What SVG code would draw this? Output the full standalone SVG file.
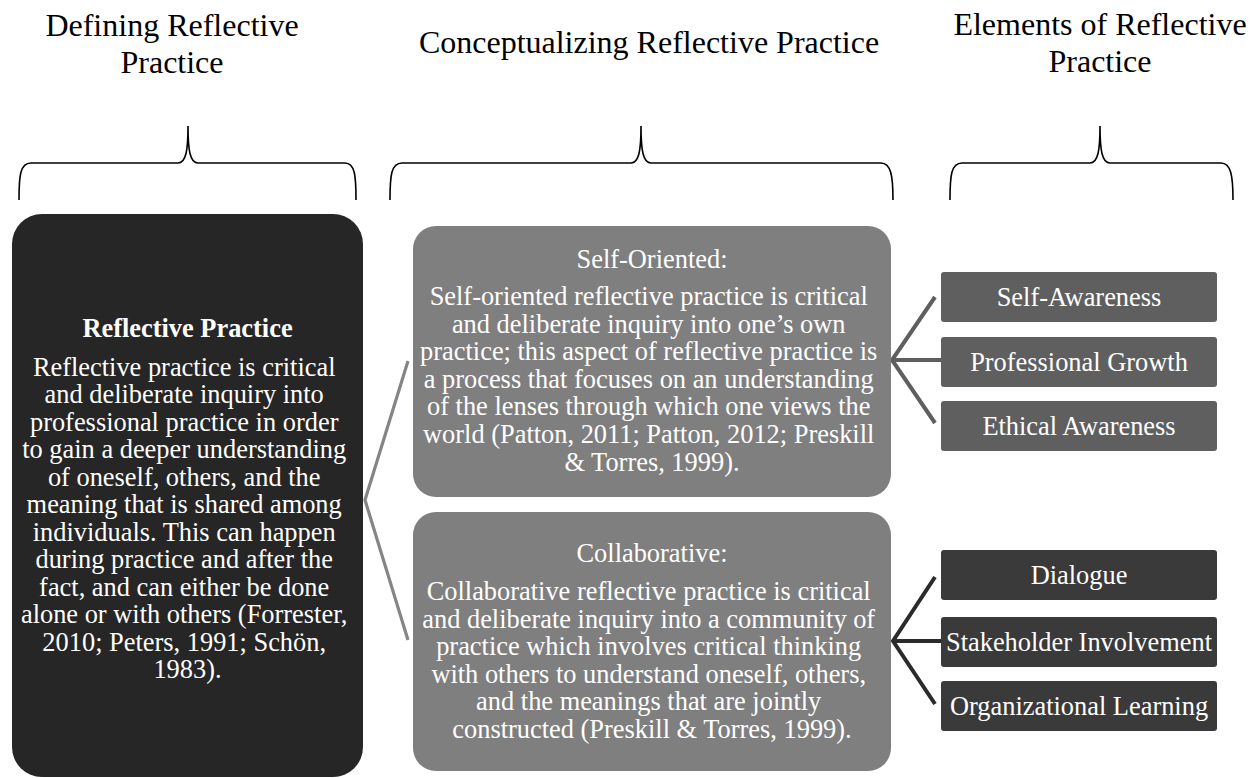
<svg xmlns="http://www.w3.org/2000/svg" width="1252" height="778" viewBox="0 0 1252 778">
  <style>
    .title { font-family: "Liberation Serif", "Times New Roman", serif; font-size: 32px; fill: #000; text-anchor: middle; }
    .body { font-family: "Liberation Serif", "Times New Roman", serif; font-size: 26.4px; fill: #fff; text-anchor: middle; }
    .bold { font-weight: bold; }
    .brace { fill: none; stroke: #000; stroke-width: 1.6; }
    .conn { fill: none; stroke-linecap: butt; stroke-linejoin: miter; }
    .c-main { stroke: #858585; stroke-width: 3.2; }
    .c-self { stroke: #5f5f5f; stroke-width: 4; }
    .c-collab { stroke: #2b2b2b; stroke-width: 4; }
    .mid { fill: #7f7f7f; }
    .el-self { fill: #5f5f5f; }
    .el-collab { fill: #3a3a3a; }
  </style>

  <rect width="1252" height="778" fill="#fff"/>

  <!-- Column headings -->
  <g id="heading-defining">
    <text class="title" x="172" y="36">Defining Reflective</text>
    <text class="title" x="172" y="73">Practice</text>
  </g>
  <g id="heading-conceptualizing">
    <text class="title" x="649" y="53">Conceptualizing Reflective Practice</text>
  </g>
  <g id="heading-elements">
    <text class="title" x="1100" y="35">Elements of Reflective</text>
    <text class="title" x="1100" y="72">Practice</text>
  </g>

  <!-- Curly braces under the headings -->
  <g id="braces">
    <path class="brace" d="M19,200 C19,176 20,163 31,163 L178,163 C186,163 188,150 188,126 C188,150 190,163 198,163 L345,163 C355,163 356,176 356,200"/>
    <path class="brace" d="M390,200 C390,176 391,163 402,163 L631,163 C639,163 641,150 641,126 C641,150 643,163 651,163 L881,163 C891,163 893,176 893,200"/>
    <path class="brace" d="M950,200 C950,176 951,163 962,163 L1090,163 C1098,163 1100,150 1100,126 C1100,150 1102,163 1110,163 L1221,163 C1231,163 1233,176 1233,200"/>
  </g>

  <!-- Connectors -->
  <g id="connectors">
    <polyline class="conn c-main" points="408,361 365,500 408,640"/>
    <polyline class="conn c-self" points="935,297 892,360 935,423"/>
    <line class="conn c-self" x1="892" y1="360" x2="941" y2="360"/>
    <polyline class="conn c-collab" points="935,577 893,641 935,704"/>
    <line class="conn c-collab" x1="893" y1="641" x2="941" y2="641"/>
  </g>

  <!-- Root node -->
  <g id="node-reflective-practice">
    <rect x="12" y="214" width="351" height="563" rx="30" ry="30" fill="#262626"/>
    <text class="body bold" x="187.5" y="337">Reflective Practice</text>
    <text class="body" x="187.5">
      <tspan x="187.5" y="375.5">Reflective practice is critical</tspan>
      <tspan x="187.5" y="403">and deliberate inquiry into</tspan>
      <tspan x="187.5" y="430.5">professional practice in order</tspan>
      <tspan x="187.5" y="458">to gain a deeper understanding</tspan>
      <tspan x="187.5" y="485.5">of oneself, others, and the</tspan>
      <tspan x="187.5" y="513">meaning that is shared among</tspan>
      <tspan x="187.5" y="540.5">individuals. This can happen</tspan>
      <tspan x="187.5" y="568">during practice and after the</tspan>
      <tspan x="187.5" y="595.5">fact, and can either be done</tspan>
      <tspan x="187.5" y="623">alone or with others (Forrester,</tspan>
      <tspan x="187.5" y="650.5">2010; Peters, 1991; Schön,</tspan>
      <tspan x="187.5" y="678">1983).</tspan>
    </text>
  </g>

  <!-- Second level -->
  <g id="node-self-oriented">
    <rect class="mid" x="413" y="226" width="478" height="271" rx="23" ry="23"/>
    <text class="body" x="652" y="268">Self-Oriented:</text>
    <text class="body" x="652">
      <tspan x="652" y="305">Self-oriented reflective practice is critical</tspan>
      <tspan x="652" y="332.6">and deliberate inquiry into one’s own</tspan>
      <tspan x="652" y="360.2">practice; this aspect of reflective practice is</tspan>
      <tspan x="652" y="387.8">a process that focuses on an understanding</tspan>
      <tspan x="652" y="415.4">of the lenses through which one views the</tspan>
      <tspan x="652" y="443">world (Patton, 2011; Patton, 2012; Preskill</tspan>
      <tspan x="652" y="470.6">&amp; Torres, 1999).</tspan>
    </text>
  </g>

  <g id="node-collaborative">
    <rect class="mid" x="413" y="512" width="478" height="259" rx="23" ry="23"/>
    <text class="body" x="652" y="562">Collaborative:</text>
    <text class="body" x="652">
      <tspan x="652" y="600">Collaborative reflective practice is critical</tspan>
      <tspan x="652" y="627.6">and deliberate inquiry into a community of</tspan>
      <tspan x="652" y="655.2">practice which involves critical thinking</tspan>
      <tspan x="652" y="682.8">with others to understand oneself, others,</tspan>
      <tspan x="652" y="710.4">and the meanings that are jointly</tspan>
      <tspan x="652" y="738">constructed (Preskill &amp; Torres, 1999).</tspan>
    </text>
  </g>

  <!-- Elements -->
  <g id="node-self-awareness">
    <rect class="el-self" x="941" y="272" width="276" height="50" rx="3"/>
    <text class="body" x="1079" y="305.5">Self-Awareness</text>
  </g>
  <g id="node-professional-growth">
    <rect class="el-self" x="941" y="337" width="276" height="50" rx="3"/>
    <text class="body" x="1079" y="370.5">Professional Growth</text>
  </g>
  <g id="node-ethical-awareness">
    <rect class="el-self" x="941" y="401" width="276" height="50" rx="3"/>
    <text class="body" x="1079" y="434.5">Ethical Awareness</text>
  </g>
  <g id="node-dialogue">
    <rect class="el-collab" x="941" y="550" width="276" height="50" rx="3"/>
    <text class="body" x="1079" y="583.5">Dialogue</text>
  </g>
  <g id="node-stakeholder-involvement">
    <rect class="el-collab" x="941" y="617" width="276" height="50" rx="3"/>
    <text class="body" x="1079" y="650.5">Stakeholder Involvement</text>
  </g>
  <g id="node-organizational-learning">
    <rect class="el-collab" x="941" y="681" width="276" height="50" rx="3"/>
    <text class="body" x="1079" y="714.5">Organizational Learning</text>
  </g>
</svg>
